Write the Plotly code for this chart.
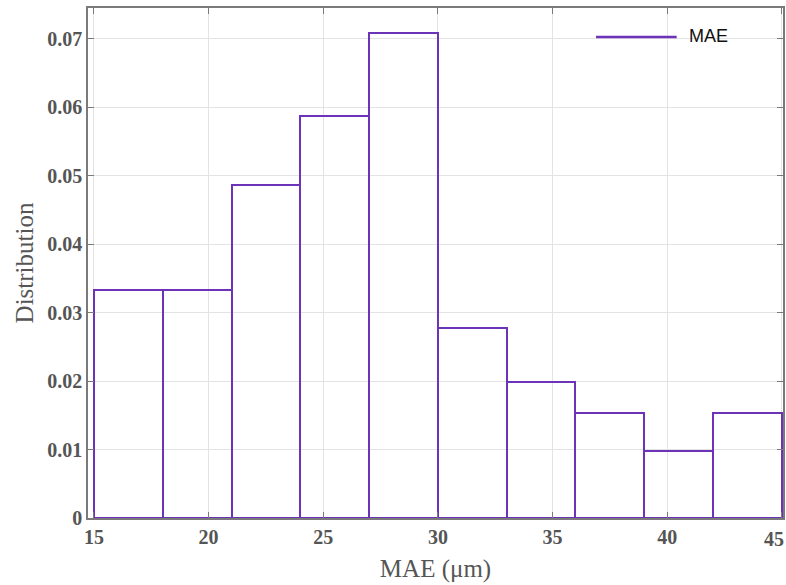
import plotly.graph_objects as go

bin_left = [15, 18, 21, 24, 27, 30, 33, 36, 39, 42]
density = [0.0333, 0.0333, 0.0487, 0.0587, 0.0708, 0.0277, 0.0199, 0.0154, 0.0098, 0.0154]
bin_width = 3
x_ticks = [15, 20, 25, 30, 35, 40, 45]
x_tick_text = ["15", "20", "25", "30", "35", "40", "45"]
y_ticks = [0, 0.01, 0.02, 0.03, 0.04, 0.05, 0.06, 0.07]
y_tick_text = ["0", "0.01", "0.02", "0.03", "0.04", "0.05", "0.06", "0.07"]
series_name = "MAE"

purple = "#6c32b8"
axis_gray = "#7a7a7a"
text_gray = "#555555"
tick_font = dict(family="Liberation Serif", size=20, color=text_gray, weight="bold")

fig = go.Figure()
fig.add_trace(go.Bar(
    x=[b + bin_width / 2 for b in bin_left],
    y=density,
    width=bin_width,
    name=series_name,
    marker=dict(color="rgba(255,255,255,0)", line=dict(color=purple, width=2)),
    showlegend=False,
    hoverinfo="x+y",
))

axis_common = dict(
    showline=True, linecolor=axis_gray, linewidth=1.5, mirror="ticks",
    ticks="inside", ticklen=6, tickcolor=axis_gray, tickwidth=1,
    showgrid=True, gridcolor="#e3e3e3", gridwidth=1, zeroline=False,
    automargin=False,
    tickfont=tick_font,
)

# last x tick label sits at the right edge: draw it right-aligned so it stays inside
fig.add_annotation(xref="x", yref="paper", x=x_ticks[-1], y=0,
                   text=x_tick_text[-1], showarrow=False,
                   xanchor="right", yanchor="top", xshift=4, yshift=-8,
                   font=tick_font)

# manual legend (long line sample like the reference)
fig.add_shape(type="line", xref="paper", yref="paper",
              x0=0.731, x1=0.847, y0=0.943, y1=0.943,
              line=dict(color=purple, width=2.5))
fig.add_annotation(xref="paper", yref="paper", x=0.862, y=0.945,
                   text=series_name, showarrow=False, xanchor="left", yanchor="middle",
                   font=dict(family="Liberation Sans", size=18, color="#111111"))

fig.update_layout(
    width=786, height=585,
    margin=dict(l=88, r=3, t=8, b=67),
    paper_bgcolor="white", plot_bgcolor="white",
    bargap=0,
    showlegend=False,
    xaxis=dict(
        range=[14.74, 45.05], tickvals=x_ticks,
        ticktext=x_tick_text[:-1] + [""],
        title=dict(text="MAE (μm)", font=dict(family="Liberation Serif", size=25, color=text_gray), standoff=13),
        **axis_common,
    ),
    yaxis=dict(
        range=[0, 0.0745], tickvals=y_ticks, ticktext=y_tick_text,
        title=dict(text="Distribution", font=dict(family="Liberation Serif", size=25, color=text_gray), standoff=7),
        **axis_common,
    ),
)

fig.write_html("out.html", config={"displayModeBar": False},
               post_script="document.body.style.margin='0';")
